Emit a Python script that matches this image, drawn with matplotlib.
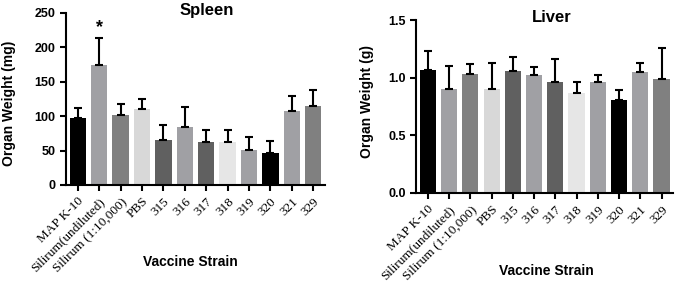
import numpy as np
import matplotlib.pyplot as plt

strains = ['MAP K-10', 'Silirum(undiluted)', 'Silirum (1:10,000)', 'PBS',
           '315', '316', '317', '318', '319', '320', '321', '329']
bar_colors = ['#000000', '#a0a0a4', '#808080', '#d8d8d8', '#606060', '#a0a0a4',
              '#606060', '#e6e6e6', '#a0a0a4', '#000000', '#a0a0a4', '#808080']

spleen_mean = [98, 175, 101, 111, 65, 84, 62, 63, 51, 47, 107, 115]
spleen_err = [14, 38, 17, 14, 22, 30, 18, 17, 19, 17, 23, 23]

liver_mean = [1.07, 0.90, 1.03, 0.90, 1.06, 1.02, 0.96, 0.87, 0.96, 0.81, 1.05, 0.99]
liver_err = [0.16, 0.20, 0.09, 0.23, 0.12, 0.07, 0.20, 0.09, 0.06, 0.08, 0.08, 0.27]

W, H = 680, 282
fig = plt.figure(figsize=(W / 100, H / 100), dpi=100)
ax1 = fig.add_axes([0.097, 0.344, 0.381, 0.61])
ax2 = fig.add_axes([0.612, 0.316, 0.378, 0.613])

bold = dict(family='Liberation Sans', weight='bold')


def px_text(x, y, s, size, rot=0):
    # place text by pixel position in the 680x282 picture
    fig.text(x / W, 1 - y / H, s, ha='center', va='center', rotation=rot,
             fontsize=size, **bold)


def draw(ax, means, errs, ylim, yticks, yfmt):
    x = np.arange(len(strains))
    ax.bar(x, means, width=0.76, color=bar_colors, zorder=2)
    ax.errorbar(x, means, yerr=[np.zeros(len(errs)), errs], fmt='none',
                ecolor='black', elinewidth=1.5, capsize=3, capthick=1.5, zorder=3)
    ax.set_xlim(-0.55, len(strains) - 0.45)
    ax.set_ylim(*ylim)
    ax.set_yticks(yticks)
    ax.set_yticklabels([yfmt.format(v) for v in yticks], fontsize=9, **bold)
    ax.set_xticks(x)
    ax.set_xticklabels(strains, rotation=45, ha='right', rotation_mode='anchor',
                       family='Liberation Serif', fontsize=9.5)
    for s in ['top', 'right']:
        ax.spines[s].set_visible(False)
    for s in ['left', 'bottom']:
        ax.spines[s].set_linewidth(1.5)
    ax.tick_params(width=1.5, length=4)


draw(ax1, spleen_mean, spleen_err, (0, 250), [0, 50, 100, 150, 200, 250], '{:.0f}')
draw(ax2, liver_mean, liver_err, (0, 1.5), [0.0, 0.5, 1.0, 1.5], '{:.1f}')

ax1.text(1, spleen_mean[1] + spleen_err[1] + 4, '*', ha='center', va='bottom',
         fontsize=13, **bold)

px_text(207, 10, 'Spleen', 12)
px_text(552, 18, 'Liver', 12)
px_text(9, 103, 'Organ Weight (mg)', 10, rot=90)
px_text(367, 102, 'Organ Weight (g)', 10, rot=90)
px_text(190, 262, 'Vaccine Strain', 10)
px_text(546, 271, 'Vaccine Strain', 10)

fig.savefig('out.png', dpi=100)
